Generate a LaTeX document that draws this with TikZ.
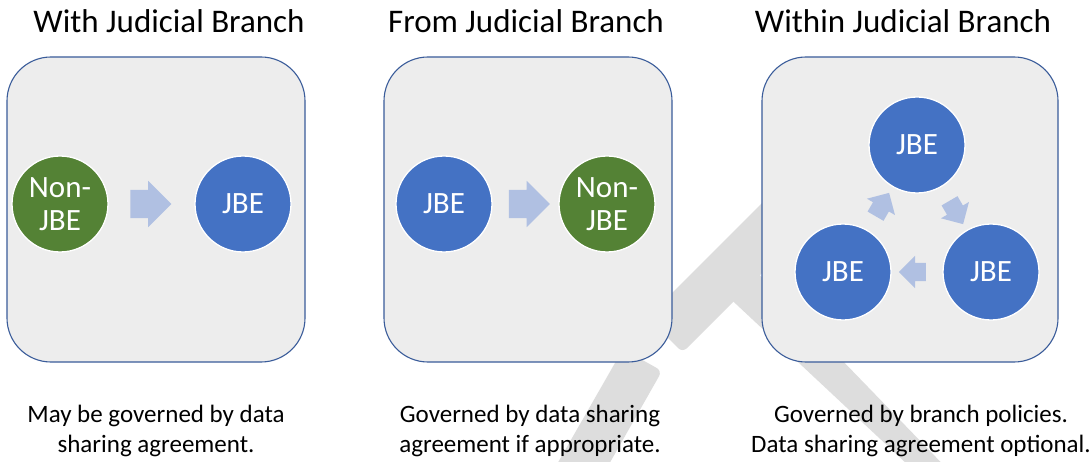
\documentclass[tikz,border=0pt]{standalone}
\usepackage{fontspec}
\setmainfont{Carlito}
\usetikzlibrary{shapes.arrows}
\definecolor{boxfill}{HTML}{EDEDED}
\definecolor{boxdraw}{HTML}{3A5C9A}
\definecolor{jbeblue}{HTML}{4472C4}
\definecolor{nongreen}{HTML}{548235}
\definecolor{arrowc}{HTML}{B0C0E2}
\definecolor{wmgray}{HTML}{DDDDDD}
\begin{document}
\begin{tikzpicture}[x=1pt,y=-1pt,
  panel/.style={rectangle, draw=boxdraw, line width=1.1pt, fill=boxfill, rounded corners=44pt, inner sep=0pt},
  ent/.style={circle, minimum size=96pt, inner sep=0pt, draw=white, line width=1.3pt, text=white, font=\fontsize{31}{33}\selectfont, align=center},
  jbe/.style={ent, fill=jbeblue},
  nonjbe/.style={ent, fill=nongreen},
  bigarrow/.style={single arrow, fill=arrowc, draw=none, inner xsep=0pt, inner ysep=14pt, minimum height=41pt, single arrow head extend=9pt, sloped, allow upside down},
  smallarrow/.style={single arrow, fill=arrowc, draw=none, inner xsep=0pt, inner ysep=9pt, minimum height=27pt, single arrow head extend=7pt, sloped, allow upside down},
  ttl/.style={font=\fontsize{33}{40}\selectfont, anchor=base, inner sep=0pt},
  capt/.style={font=\fontsize{25}{30}\selectfont, align=center, inner sep=0pt, anchor=north},
  wmark/.style={fill=wmgray, rounded corners=6pt}
]
\useasboundingbox (0,0) rectangle (1091,462);
\clip (0,0) rectangle (1091,462);
\fill[white] (0,0) rectangle (1091,462);

% watermark
\fill[wmark] (647.5,317.5) -- (682.5,352.5) -- (867.5,167.5) -- (832.5,132.5) -- cycle;
\fill[wmark] (721,290) -- (924,480) -- (958,480) -- (747,262) -- cycle;
\fill[wmark] (623,349) -- (662,371) -- (600,480) -- (548,480) -- cycle;

% titles
\node[ttl] (t1) at (169,33) {With Judicial Branch};
\node[ttl] (t2) at (526,33) {From Judicial Branch};
\node[ttl] (t3) at (903,33) {Within Judicial Branch};

% panels
\node[panel, minimum width=298pt, minimum height=305pt] (p1) at (156,209.5) {};
\node[panel, minimum width=288pt, minimum height=305pt] (p2) at (528,209.5) {};
\node[panel, minimum width=296pt, minimum height=305pt] (p3) at (910,209.5) {};

% panel 1
\node[nonjbe] (c1a) at (60,204) {Non-\\JBE};
\node[jbe] (c1b) at (243,204) {JBE};
\path (c1a) -- node[bigarrow, pos=0.41] (a1) {} (c1b);

% panel 2
\node[jbe] (c2a) at (444,204) {JBE};
\node[nonjbe] (c2b) at (607,204) {Non-\\JBE};
\path (c2a) -- node[bigarrow, pos=0.45] (a2) {} (c2b);

% panel 3
\node[jbe] (c3t) at (917,145) {JBE};
\node[jbe] (c3l) at (843,272) {JBE};
\node[jbe] (c3r) at (991,272) {JBE};
\path (c3t) -- node[smallarrow] (a3) {} (c3r);
\path (c3r) -- node[smallarrow] (a4) {} (c3l);
\path (c3l) -- node[smallarrow] (a5) {} (c3t);

% captions
\node[capt] (k1) at (156,405) {May be governed by data\\sharing agreement.};
\node[capt] (k2) at (530,405) {Governed by data sharing\\agreement if appropriate.};
\node[capt] (k3) at (921,405) {Governed by branch policies.\\Data sharing agreement optional.};
\end{tikzpicture}
\end{document}
